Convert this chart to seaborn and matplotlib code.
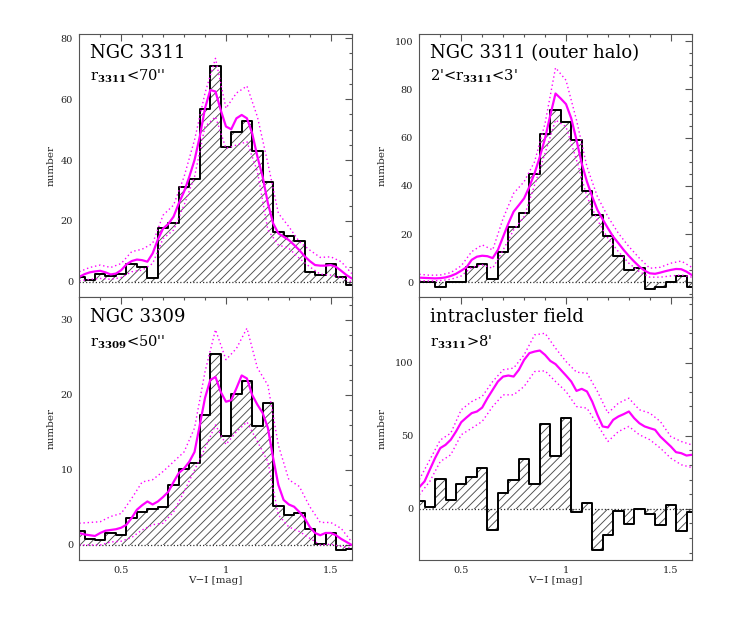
import numpy as np
import matplotlib
matplotlib.use("Agg")
import matplotlib.pyplot as plt
import seaborn as sns
from matplotlib.ticker import MultipleLocator

# ---------------- data ----------------
bin_centers = [0.30, 0.35, 0.40, 0.45, 0.50, 0.55, 0.60, 0.65, 0.70, 0.75, 0.80, 0.85,
               0.90, 0.95, 1.00, 1.05, 1.10, 1.15, 1.20, 1.25, 1.30, 1.35, 1.40, 1.45,
               1.50, 1.55, 1.60]
fine_grid = [0.300, 0.325, 0.350, 0.375, 0.400, 0.425, 0.450, 0.475, 0.500, 0.525,
             0.550, 0.575, 0.600, 0.625, 0.650, 0.675, 0.700, 0.725, 0.750, 0.775,
             0.800, 0.825, 0.850, 0.875, 0.900, 0.925, 0.950, 0.975, 1.000, 1.025,
             1.050, 1.075, 1.100, 1.125, 1.150, 1.175, 1.200, 1.225, 1.250, 1.275,
             1.300, 1.325, 1.350, 1.375, 1.400, 1.425, 1.450, 1.475, 1.500, 1.525,
             1.550, 1.575, 1.600]
coarse_grid = bin_centers

# NGC 3311 (r < 70'')
hist_3311 = [1.6, 0.5, 2.5, 2.0, 2.5, 6.0, 4.8, 1.2, 17.8, 19.2, 31.2, 33.9, 56.7, 71.0,
             44.2, 49.1, 52.8, 42.8, 32.9, 16.3, 15.0, 13.5, 3.3, 2.2, 5.9, 1.6, -1.1]
kde_3311 = [1.6, 2.5, 3.1, 3.4, 3.6, 3.1, 2.4, 2.7, 3.8, 5.7, 6.8, 7.3, 7.1, 6.6, 9.3,
            13.9, 17.5, 19.0, 21.4, 25.8, 29.6, 34.5, 40.0, 47.7, 57.0, 63.0, 62.5, 56.4,
            51.0, 50.1, 53.7, 54.8, 53.7, 48.8, 41.1, 34.5, 25.8, 19.2, 15.9, 14.8, 13.7,
            12.1, 10.4, 8.4, 6.8, 5.5, 5.3, 5.3, 5.5, 4.9, 3.6, 2.2, 1.1]
up_3311 = [3.3, 4.7, 5.5, 4.7, 6.0, 9.9, 10.7, 12.6, 21.9, 25.2, 34.5, 46.6, 62.0, 73.4,
           57.0, 62.0, 64.3, 54.2, 38.9, 22.5, 18.1, 13.2, 10.4, 8.0, 8.2, 6.6, 2.7]
lo_3311 = [0.3, 0.8, 1.1, 0.8, 1.4, 3.3, 3.8, 6.0, 14.2, 17.0, 25.2, 34.5, 51.0, 54.2,
           43.8, 44.9, 46.0, 36.2, 17.0, 12.1, 11.0, 7.7, 4.9, 2.5, 2.2, 1.4, 0.0]

# NGC 3311 outer halo (2' < r < 3')
hist_halo = [0.3, 0.3, -1.8, 0.0, 0.0, 6.5, 7.7, 1.2, 12.6, 23.1, 28.7, 44.8, 61.6, 71.4,
             66.6, 59.0, 37.8, 27.8, 19.3, 10.9, 5.1, 5.9, -2.8, -2.1, 0.0, 2.6, -1.8]
kde_halo = [1.9, 1.8, 1.7, 1.6, 1.7, 2.0, 2.6, 3.5, 4.8, 6.2, 9.3, 10.6, 11.0, 10.8, 10.0,
            13.4, 18.9, 24.4, 29.3, 32.0, 34.8, 39.6, 45.2, 52.0, 59.7, 69.3, 78.3, 76.2,
            73.9, 68.0, 59.0, 49.3, 41.7, 35.5, 30.0, 26.1, 22.4, 18.9, 16.2, 13.4, 10.9,
            8.6, 6.5, 4.8, 3.7, 3.5, 4.0, 4.6, 5.1, 5.5, 5.4, 4.4, 3.0]
up_halo = [3.3, 2.9, 3.0, 4.0, 6.8, 12.7, 15.5, 13.4, 26.5, 36.9, 41.7, 50.0, 65.9, 89.0,
           83.8, 67.3, 47.9, 35.5, 27.2, 20.3, 14.8, 10.0, 5.8, 6.2, 7.9, 8.8, 6.2]
lo_halo = [0.7, 0.5, 0.7, 1.2, 2.6, 6.2, 7.2, 5.8, 13.4, 21.7, 27.2, 40.3, 53.5, 67.3,
           64.5, 50.7, 35.5, 25.8, 18.2, 12.7, 7.9, 4.4, 2.1, 2.1, 2.6, 3.0, 2.1]

# NGC 3309 (r < 50'')
hist_3309 = [1.9, 0.8, 0.7, 1.6, 1.3, 3.6, 4.4, 4.8, 5.0, 8.0, 10.1, 10.9, 17.3, 25.4,
             14.5, 20.1, 21.9, 15.9, 18.9, 5.2, 4.0, 4.2, 2.1, 0.1, 1.6, -0.7, -0.5]
kde_3309 = [1.6, 1.4, 1.3, 1.2, 1.6, 1.9, 2.0, 2.1, 2.3, 2.7, 3.6, 4.7, 5.3, 5.8, 5.4,
            5.8, 6.4, 7.1, 8.4, 9.6, 10.2, 11.1, 12.4, 16.0, 19.6, 22.0, 22.4, 20.4, 19.1,
            19.3, 20.9, 22.6, 22.2, 20.0, 18.7, 17.6, 15.6, 11.6, 8.0, 6.0, 5.4, 5.1, 4.4,
            3.6, 2.4, 1.6, 1.3, 1.6, 1.6, 1.3, 0.8, 0.4, 0.0]
up_3309 = [2.9, 3.0, 3.1, 3.8, 4.2, 6.2, 8.4, 8.7, 9.8, 11.1, 12.4, 15.6, 23.1, 28.7,
           24.7, 26.2, 28.9, 23.6, 21.3, 13.3, 8.7, 7.8, 5.1, 3.0, 3.0, 2.2, 0.4]
lo_3309 = [0.0, 0.0, 0.0, 0.4, 0.5, 1.0, 2.0, 2.7, 2.9, 4.4, 7.1, 10.0, 12.9, 16.0,
           13.4, 15.1, 16.4, 13.8, 11.1, 4.0, 2.4, 1.8, 0.9, 0.0, 0.1, -0.2, -0.4]

# intracluster field (r > 8')
hist_icf = [5.5, 1.1, 20.3, 5.9, 16.9, 21.4, 28.2, -14.4, 10.7, 19.4, 34.2, 17.1, 58.1,
            36.2, 62.4, -2.5, 3.9, -28.5, -18.2, -1.8, -10.3, 0.0, -3.6, -10.9, 2.3,
            -15.5, -2.3]
kde_icf = [14.8, 18.7, 26.7, 34.6, 41.5, 43.7, 47.2, 52.8, 59.2, 62.4, 65.4, 66.5, 69.2,
           75.6, 81.3, 87.0, 90.4, 91.1, 90.4, 95.0, 101.8, 106.4, 107.5, 108.2, 105.2,
           101.1, 98.9, 95.0, 91.1, 87.0, 80.6, 82.0, 80.2, 73.3, 64.2, 56.3, 55.6, 60.8,
           63.1, 64.7, 66.5, 62.0, 58.5, 56.3, 55.1, 54.0, 49.4, 46.0, 42.6, 38.7, 38.0,
           36.4, 36.9]
up_icf = [20.0, 33.5, 47.0, 51.7, 67.7, 73.3, 76.8, 87.0, 95.0, 96.2, 105.2, 118.9, 120.0,
          109.8, 100.7, 93.4, 92.7, 80.2, 65.4, 72.2, 75.6, 67.7, 65.4, 59.7, 49.4, 46.0,
          43.7]
lo_icf = [9.6, 18.7, 32.3, 36.9, 50.6, 55.1, 59.7, 69.9, 77.9, 77.9, 83.6, 93.8, 94.3,
          87.0, 80.2, 69.9, 68.8, 57.4, 46.0, 52.8, 56.3, 50.6, 47.2, 41.5, 34.6, 30.1,
          28.2]

titles = ["NGC 3311", "NGC 3311 (outer halo)", "NGC 3309", "intracluster field"]
subtitles = [r"r$_{\mathbf{3311}}$<70''", r"2'<r$_{\mathbf{3311}}$<3'",
             r"r$_{\mathbf{3309}}$<50''", r"r$_{\mathbf{3311}}$>8'"]

# ---------------- style ----------------
sns.set_theme(style="white")
plt.rcParams["font.family"] = ["DejaVu Serif", "DejaVu Sans"]
plt.rcParams["mathtext.fontset"] = "dejavuserif"
plt.rcParams["hatch.linewidth"] = 0.65

MAG = "#ff00ff"
SPINE = "#555555"

fig = plt.figure(figsize=(7.3, 6.27), dpi=100)

panels = [
    dict(rect=[0.1086, 0.5268, 0.3732, 0.4190], hist=hist_3311, kde=kde_3311, up=up_3311,
         lo=lo_3311, ylim=(-4.9, 81.4), major=20, minor=5, bottom=False, ylab=-0.088),
    dict(rect=[0.5744, 0.5268, 0.3732, 0.4190], hist=hist_halo, kde=kde_halo, up=up_halo,
         lo=lo_halo, ylim=(-6.0, 103.0), major=20, minor=5, bottom=False, ylab=-0.120),
    dict(rect=[0.1086, 0.1069, 0.3732, 0.4199], hist=hist_3309, kde=kde_3309, up=up_3309,
         lo=lo_3309, ylim=(-2.0, 33.1), major=10, minor=2, bottom=True, ylab=-0.088),
    dict(rect=[0.5744, 0.1069, 0.3732, 0.4199], hist=hist_icf, kde=kde_icf, up=up_icf,
         lo=lo_icf, ylim=(-35.0, 145.0), major=50, minor=10, bottom=True, ylab=-0.120),
]

half = (bin_centers[1] - bin_centers[0]) / 2.0
edges = [c - half for c in bin_centers] + [bin_centers[-1] + half]

for i, p in enumerate(panels):
    ax = fig.add_axes(p["rect"])
    # hatched area between histogram and zero (bars handle negative bins too)
    sns.histplot(x=bin_centers, weights=p["hist"], bins=edges, element="bars", fill=True,
                 color="#4d4d4d", facecolor="none", edgecolor="#4d4d4d", linewidth=0,
                 hatch="////", ax=ax)
    # histogram outline
    sns.histplot(x=bin_centers, weights=p["hist"], bins=edges, element="step", fill=False,
                 color="black", linewidth=1.4, ax=ax)
    ax.axhline(0, color="#333333", linestyle=(0, (1, 1.6)), linewidth=0.9, zorder=1)
    # smoothed distribution and its confidence limits
    sns.lineplot(x=coarse_grid, y=p["up"], color=MAG, linewidth=1.0,
                 linestyle=(0, (1, 2)), errorbar=None, ax=ax)
    sns.lineplot(x=coarse_grid, y=p["lo"], color=MAG, linewidth=1.0,
                 linestyle=(0, (1, 2)), errorbar=None, ax=ax)
    sns.lineplot(x=fine_grid, y=p["kde"], color=MAG, linewidth=1.6, errorbar=None, ax=ax)

    ax.set_xlim(0.3, 1.6)
    ax.set_ylim(*p["ylim"])
    ax.xaxis.set_major_locator(MultipleLocator(0.5))
    ax.xaxis.set_minor_locator(MultipleLocator(0.1))
    ax.yaxis.set_major_locator(MultipleLocator(p["major"]))
    ax.yaxis.set_minor_locator(MultipleLocator(p["minor"]))
    ax.xaxis.set_major_formatter(plt.FuncFormatter(lambda v, pos: f"{v:g}"))
    ax.tick_params(which="both", direction="in", top=True, right=True, color=SPINE,
                   width=0.8, labelcolor="#222222", labelsize=7)
    ax.tick_params(which="major", length=5, pad=4.5)
    ax.tick_params(which="minor", length=2.5)
    for s in ax.spines.values():
        s.set_color(SPINE)
        s.set_linewidth(0.8)

    ax.set_ylabel("number", fontsize=7.5, color="#222222")
    ax.yaxis.set_label_coords(p["ylab"], 0.5)
    if p["bottom"]:
        ax.set_xlabel("V\u2212I [mag]", fontsize=7.5, color="#222222")
        ax.xaxis.set_label_coords(0.5, -0.06)
    else:
        ax.set_xlabel("")
        ax.tick_params(labelbottom=False)

    ty = 0.907 if not p["bottom"] else 0.905
    sy = 0.823 if not p["bottom"] else 0.812
    ax.text(0.04, ty, titles[i], transform=ax.transAxes, fontsize=13,
            va="baseline", ha="left", color="black")
    ax.text(0.04, sy, subtitles[i], transform=ax.transAxes, fontsize=10.5,
            va="baseline", ha="left", color="black")

fig.savefig("out.png", dpi=100)
